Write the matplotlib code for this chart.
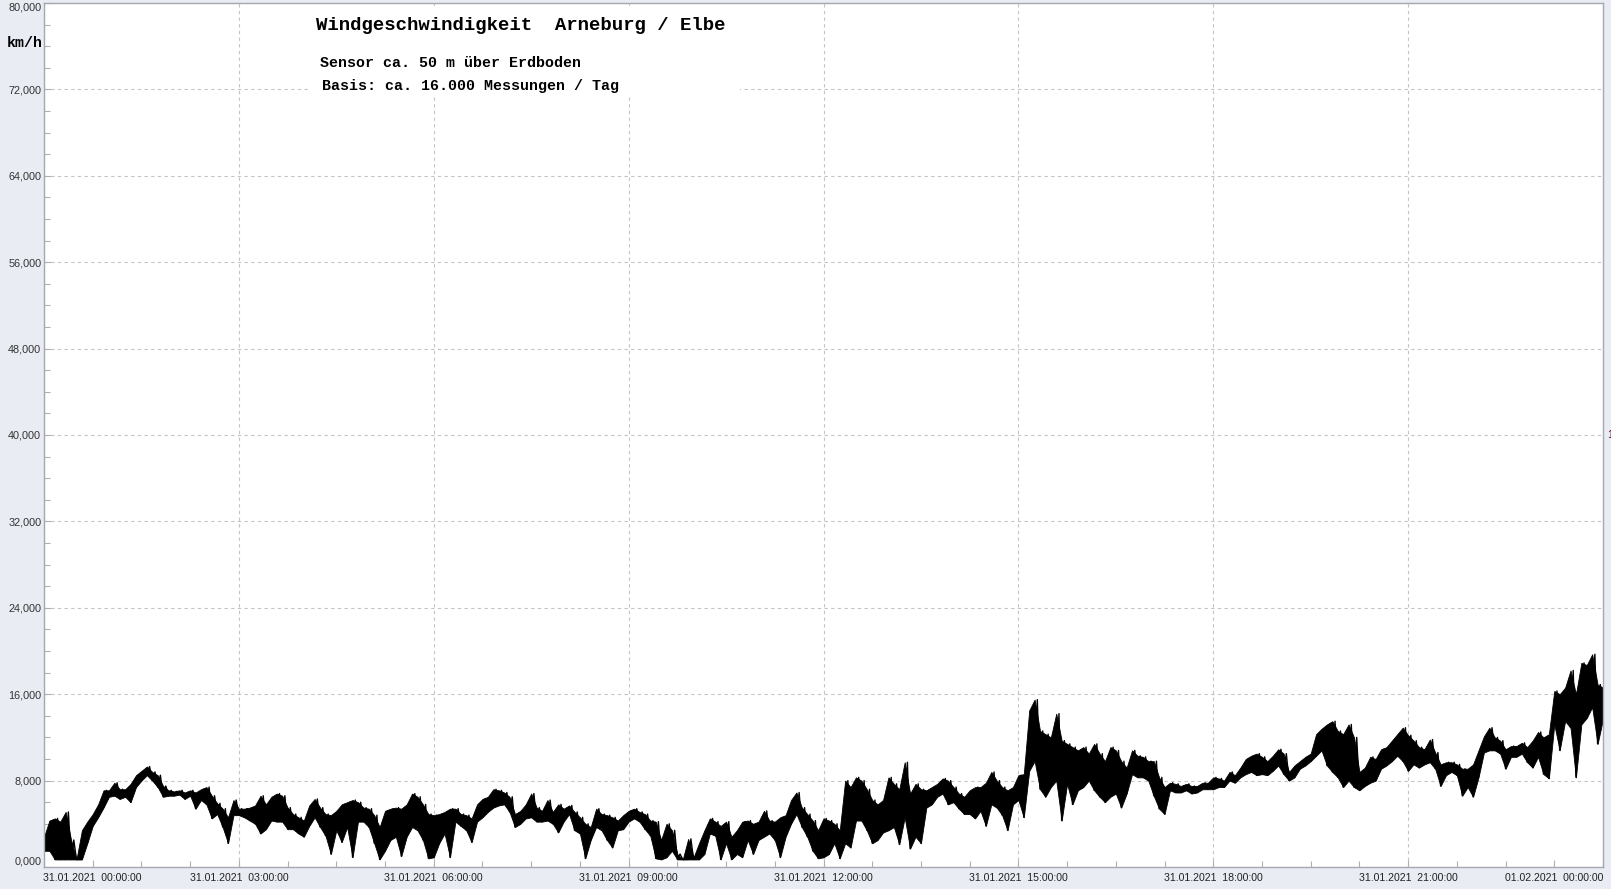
import numpy as np
import matplotlib.pyplot as plt
from matplotlib.patches import Rectangle
from matplotlib.ticker import MultipleLocator

# Wind speed Arneburg 31.01.2021, km/h
# 5-minute bins: lowest and highest reading in each bin
speed_low = [
    1.5, 1.5, 0.7, 0.7, 0.7, 0.7, 0.7, 0.7, 2.2, 3.8, 4.6, 5.5, 6.5, 6.6, 6.3, 6.5, 6.0, 7.4, 8.0, 8.5,
    8.0, 7.4, 6.5, 6.6, 6.6, 6.7, 6.3, 6.6, 5.4, 6.2, 5.8, 4.5, 4.9, 3.7, 2.2, 4.8, 4.8, 4.6, 4.3, 4.0,
    3.1, 3.5, 4.3, 4.2, 4.2, 3.5, 3.5, 3.1, 2.8, 3.8,
    4.6, 3.7, 2.9, 1.2, 3.4, 2.3, 3.7, 0.9, 4.2, 4.2, 3.7, 2.2, 0.7, 1.5, 2.5, 2.8, 1.0, 2.8, 3.7, 3.4,
    2.5, 0.8, 0.9, 2.2, 3.1, 0.9, 4.2, 3.8, 3.4, 2.3, 4.2, 4.6, 5.1, 5.5, 5.7, 5.8, 5.1, 3.7, 4.0, 4.5,
    4.6, 4.2, 4.2, 4.3, 4.0, 3.2, 4.2, 4.9,
    3.4, 3.1, 0.8, 2.5, 3.7, 3.4, 2.5, 1.8, 3.4, 3.5, 4.2, 4.5, 4.2, 3.5, 2.9, 0.8, 0.7, 0.9, 1.5, 0.7,
    0.7, 0.7, 0.7, 0.7, 1.2, 3.1, 2.9, 0.7, 2.2, 0.7, 1.2, 0.9, 2.5, 1.2, 2.5, 2.8, 3.1, 2.5, 0.9, 2.8,
    4.0, 4.9, 3.7, 2.8, 1.5, 0.8, 0.9, 1.2,
    2.2, 0.8, 2.2, 1.8, 4.3, 4.3, 3.4, 2.2, 2.5, 3.2, 3.4, 3.7, 2.1, 4.6, 1.7, 2.8, 2.2, 5.5, 5.8, 6.5,
    6.8, 5.8, 6.0, 5.4, 4.9, 4.9, 4.5, 5.2, 3.8, 5.8, 5.5, 4.8, 3.4, 5.8, 6.2, 4.6, 8.9, 9.8, 7.2, 6.5,
    7.4, 8.0, 4.3, 7.7, 5.8, 7.1, 7.4, 8.0,
    7.1, 6.5, 6.0, 6.5, 6.8, 5.5, 6.8, 8.6, 8.3, 8.3, 8.0, 6.6, 5.4, 4.9, 7.1, 6.9, 6.9, 7.1, 6.8, 6.9,
    7.2, 7.2, 7.2, 7.4, 7.4, 8.0, 7.8, 8.3, 8.6, 8.8, 8.5, 8.6, 8.5, 8.9, 9.4, 8.6, 8.0, 8.3, 9.1, 9.4,
    9.8, 10.3, 10.8, 9.4, 8.8, 8.3, 7.4, 8.0,
    7.4, 7.1, 7.5, 7.8, 8.0, 9.1, 9.4, 9.8, 10.3, 9.8, 8.9, 9.5, 9.2, 9.5, 9.7, 9.1, 7.5, 8.5, 8.8, 8.5,
    6.6, 7.4, 6.5, 8.3, 10.6, 10.8, 10.8, 10.5, 9.1, 10.2, 10.2, 10.5, 9.7, 9.2, 10.2, 8.6, 8.2, 13.2, 10.8, 13.5,
    12.9, 8.3, 13.2, 13.8, 14.8, 11.4, 13.7,
]
speed_high = [
    2.8, 4.3, 4.5, 4.2, 5.1, 2.5, 0.7, 3.4, 4.2, 4.9, 5.8, 7.1, 7.1, 7.8, 7.2, 7.2, 7.7, 8.5, 8.9, 9.3,
    8.8, 8.5, 7.5, 7.1, 7.0, 7.1, 6.9, 7.1, 6.9, 7.2, 7.4, 6.6, 5.9, 5.4, 4.6, 6.2, 5.4, 5.4, 5.5, 5.7,
    6.6, 5.8, 6.5, 6.8, 6.6, 5.5, 4.9, 4.6, 4.3, 5.7,
    6.3, 5.5, 4.9, 4.8, 5.2, 5.8, 6.0, 6.2, 6.0, 5.5, 5.4, 4.8, 3.7, 5.2, 5.4, 5.5, 5.4, 5.8, 6.8, 6.5,
    5.8, 4.9, 4.8, 4.9, 5.1, 5.4, 5.4, 4.9, 4.8, 4.5, 5.8, 6.3, 6.5, 7.2, 7.1, 6.9, 6.5, 4.9, 5.2, 5.8,
    6.8, 5.5, 5.2, 6.2, 5.1, 5.8, 5.4, 5.7,
    5.1, 4.6, 4.0, 3.7, 5.4, 4.9, 4.8, 4.6, 4.3, 4.8, 5.2, 5.4, 5.1, 4.9, 4.3, 4.2, 2.5, 4.0, 3.4, 1.2,
    0.7, 2.6, 0.9, 2.2, 3.4, 4.5, 4.2, 3.8, 4.2, 2.8, 3.4, 4.2, 4.3, 4.0, 4.2, 5.2, 4.3, 4.2, 4.6, 4.8,
    6.2, 6.9, 5.5, 4.9, 4.3, 3.4, 4.5, 4.3,
    4.0, 3.4, 8.0, 7.4, 8.3, 8.0, 7.2, 6.2, 5.8, 6.2, 8.3, 7.7, 7.2, 9.7, 6.8, 7.7, 7.2, 7.1, 7.4, 7.7,
    8.2, 8.0, 7.4, 6.8, 6.5, 7.1, 7.4, 7.4, 7.8, 8.8, 8.0, 7.4, 7.1, 7.4, 8.5, 8.6, 14.5, 15.5, 12.6, 12.3,
    12.0, 14.2, 11.7, 11.4, 11.1, 10.8, 11.1, 10.5,
    11.4, 10.5, 9.8, 11.1, 10.8, 9.8, 9.2, 10.8, 10.3, 10.2, 9.8, 9.8, 8.3, 7.4, 7.8, 7.7, 7.5, 7.7, 7.5, 7.5,
    7.8, 7.8, 8.3, 8.2, 8.0, 8.8, 8.5, 9.2, 10.0, 10.3, 10.5, 10.2, 9.8, 10.3, 10.9, 10.5, 8.8, 9.4, 9.8, 10.2,
    10.5, 12.3, 12.8, 13.2, 13.5, 12.6, 12.3, 13.2,
    12.0, 8.8, 9.2, 10.2, 10.0, 10.9, 11.1, 11.7, 12.3, 12.9, 12.2, 11.7, 11.1, 10.9, 11.8, 10.6, 9.5, 9.7, 9.7, 9.5,
    9.1, 9.1, 9.5, 10.8, 12.1, 12.9, 12.0, 11.7, 10.9, 11.2, 11.2, 11.5, 11.1, 11.7, 12.5, 12.0, 12.3, 16.3, 16.0, 16.6,
    18.2, 16.0, 18.9, 18.7, 19.7, 16.9, 16.6,
]
step_h = 5 / 60
hours = np.arange(len(speed_low)) * step_h

y_ticks = [0, 8, 16, 24, 32, 40, 48, 56, 64, 72, 80]
grid_hours = [3, 6, 9, 12, 15, 18, 21]
label_hours = [0.75, 3, 6, 9, 12, 15, 18, 21, 23.25]
label_texts = ["31.01.2021  00:00:00", "31.01.2021  03:00:00", "31.01.2021  06:00:00",
               "31.01.2021  09:00:00", "31.01.2021  12:00:00", "31.01.2021  15:00:00",
               "31.01.2021  18:00:00", "31.01.2021  21:00:00", "01.02.2021  00:00:00"]

W, H = 1611, 889
fig = plt.figure(figsize=(W / 100, H / 100), dpi=100, facecolor="#e9ecf3")
ax = fig.add_axes([44 / W, 22 / H, 1559 / W, 864 / H])
ax.set_facecolor("white")
ax.set_axisbelow(True)

# band between bin minimum and maximum, plus a zigzag through them for the spiky look
ax.fill_between(hours, speed_low, speed_high, color="black", lw=0.6, zorder=2)
x = np.empty(2 * len(hours))
y = np.empty(2 * len(hours))
x[0::2] = hours
x[1::2] = hours + step_h / 2
y[0::2] = speed_low
y[1::2] = speed_high
ax.plot(x, y, color="black", lw=1.0, zorder=2)

ax.set_xlim(0, 24)
ax.set_ylim(0, 80)

ax.set_yticks(y_ticks)
ax.set_yticklabels([f"{v:.3f}".replace(".", ",") for v in y_ticks],
                   fontfamily="Liberation Sans", fontsize=7.8, color="#333333")
ax.yaxis.set_minor_locator(MultipleLocator(2))
ax.set_xticks(label_hours)
ax.set_xticklabels(label_texts, fontfamily="Liberation Sans", fontsize=7.6, color="#222222")
ax.xaxis.set_minor_locator(MultipleLocator(0.75))
ax.tick_params(which="both", direction="in", color="#b0b0b0", width=0.8)
ax.tick_params(which="major", length=5)
ax.tick_params(which="minor", length=4)
ax.tick_params(axis="y", pad=2)
ax.tick_params(axis="x", pad=4)
ylabels = ax.get_yticklabels()
ylabels[0].set_verticalalignment("bottom")
ylabels[-1].set_verticalalignment("top")

grid_style = dict(color="#c4c4c4", lw=0.8, linestyle=(0, (3, 3)))
ax.grid(axis="y", **grid_style)
for h in grid_hours:
    ax.axvline(h, zorder=0.5, **grid_style)

for s in ax.spines.values():
    s.set_color("#a4a8b0")
    s.set_linewidth(1.0)

# white box behind the heading
ax.add_patch(Rectangle((4.06, 71.4), 6.65, 8.3, facecolor="white", edgecolor="none", zorder=1))

mono = "Liberation Mono"
fig.text(316 / W, 1 - 25 / H, "Windgeschwindigkeit  Arneburg / Elbe", fontfamily=mono,
         fontweight="bold", fontsize=13.7, va="center")
fig.text(320 / W, 1 - 63 / H, "Sensor ca. 50 m über Erdboden", fontfamily=mono,
         fontweight="bold", fontsize=10.8, va="center")
fig.text(322 / W, 1 - 86 / H, "Basis: ca. 16.000 Messungen / Tag", fontfamily=mono,
         fontweight="bold", fontsize=10.8, va="center")
fig.text(7 / W, 1 - 43 / H, "km/h", fontfamily=mono, fontweight="bold", fontsize=10.8, va="center")
fig.text(1607 / W, 1 - 435 / H, "1", fontfamily="Liberation Sans", fontsize=7.5,
         color="#6b1010", va="center")

fig.savefig("out.png", dpi=100, facecolor=fig.get_facecolor())
